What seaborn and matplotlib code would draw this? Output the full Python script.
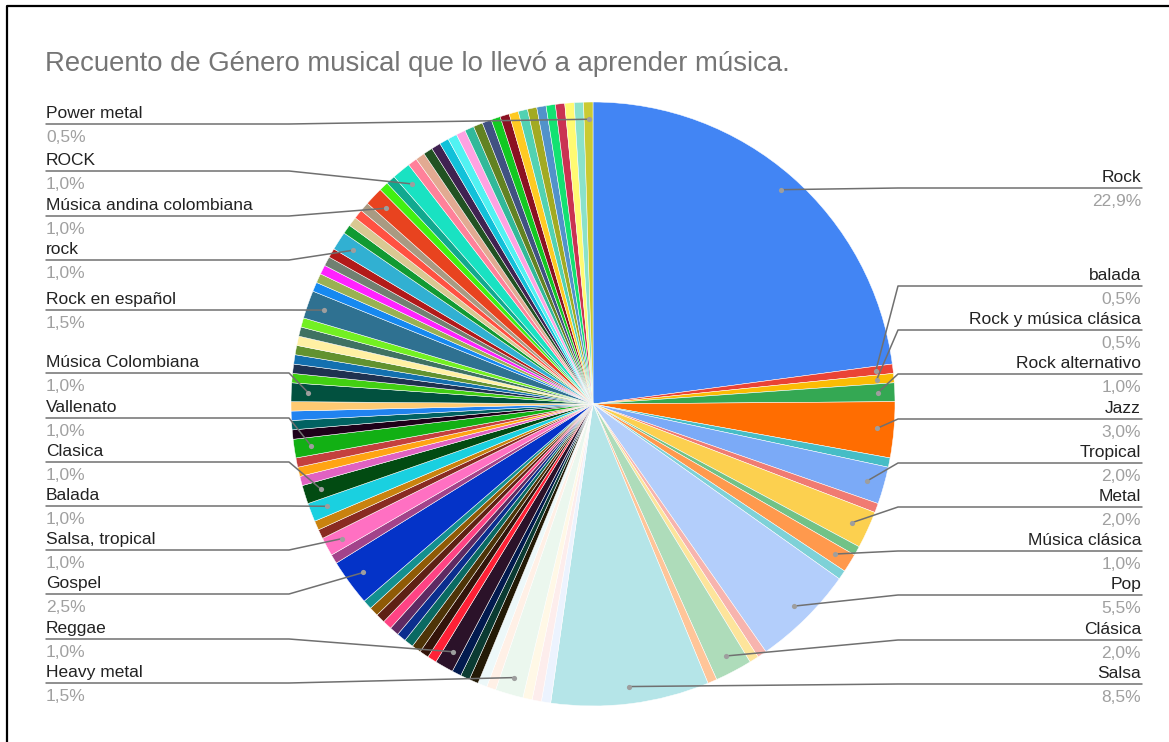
import matplotlib
matplotlib.use("Agg")
import matplotlib.pyplot as plt
import seaborn as sns
import numpy as np

sns.set_theme(style="white")
plt.rcParams['font.family'] = ['Liberation Sans', 'DejaVu Sans']

TITLE = "Recuento de Género musical que lo llevó a aprender música."

# ---- data (clockwise from 12 o'clock); None = slice without a visible label
genres = [
    "Rock", "balada", "Rock y música clásica", "Rock alternativo", "Jazz", None,
    "Tropical", None, "Metal", None, "Música clásica", None,
    "Pop", None, None, "Clásica", None, "Salsa",
    None, None, None, "Heavy metal", None, None,
    None, None, None, "Reggae", None, None, None, None, None, None, None, None, None, None,
    "Gospel", None, "Salsa, tropical", None, None, "Balada", "Clasica", None, None, None,
    "Vallenato", None, None, None, None, "Música Colombiana", None, None, None, None, None, None, None,
    "Rock en español", None, None, None, None, None, "rock", None, None, None, None,
    "Música andina colombiana", None, None, "ROCK",
    None, None, None, None, None, None, None, None, None, None,
    None, None, None, None, None, None, None, None, None, None,
    "Power metal",
]
counts = [
    46, 1, 1, 2, 6, 1,
    4, 1, 4, 1, 2, 1,
    11, 1, 1, 4, 1, 17,
    1, 1, 1, 3, 1, 1,
    1, 1, 1, 2, 1, 1, 1, 1, 1, 1, 1, 1, 1, 1,
    5, 1, 2, 1, 1, 2, 2, 1, 1, 1,
    2, 1, 1, 1, 1, 2, 1, 1, 1, 1, 1, 1, 1,
    3, 1, 1, 1, 1, 1, 2, 1, 1, 1, 1,
    2, 1, 1, 2,
    1, 1, 1, 1, 1, 1, 1, 1, 1, 1,
    1, 1, 1, 1, 1, 1, 1, 1, 1, 1,
    1,
]
colors = [
    "#4285F4", "#EA4335", "#FBBC04", "#34A853", "#FF6D01", "#46BDC6",
    "#7BAAF7", "#F07B72", "#FCD04F", "#71C287", "#FF994D", "#7ED1D7",
    "#B3CEFB", "#F7B4AE", "#FDE49B", "#AEDCBA", "#FFC599", "#B5E5E8",
    "#ECF3FE", "#FDEDEC", "#FFF8E6", "#EBF7EE", "#FFF0E6", "#EDF8F9",
    "#231A06", "#0B3B32", "#021A4E", "#2B1229", "#FF2136", "#33140A", "#4E3408",
    "#0A6A62", "#0B2E8E", "#5E2A62", "#FF4384", "#5E2014", "#8F5A06", "#13908F",
    "#0433C8", "#A2438A", "#FF70C2", "#892B22", "#C9820F", "#1AD0E0", "#024B12",
    "#E062C2", "#FFA414", "#C4403E",
    "#12B014", "#1E0019", "#016262", "#2183F0", "#FFCA72", "#02513F", "#42D012",
    "#1F3150", "#1370B0", "#62922F", "#FFF0A3", "#3F7262", "#73F022",
    "#2F7191", "#1689F0", "#9AB152", "#FF22FF", "#718071", "#B21A1A", "#31B0D2",
    "#119A32", "#D9C892", "#FF5142", "#A99A82",
    "#E8431F", "#42F011", "#11A98F", "#19E2C2",
    "#FF819A", "#E2AA92", "#215222", "#402251", "#11C1D9", "#51F2F2", "#FFA2E2",
    "#31B99A", "#628222", "#415282",
    "#12C922", "#8B1122", "#FFCA22", "#52D2B2", "#A2AA22", "#5292CA", "#12E272",
    "#CA3252", "#FFFA72", "#8AE2CA",
    "#CACA32",
]

# ---- layout (pixels)
W, H = 1169, 742
CX, CY, R = 593, 404, 302
left_label_y = {
    "Power metal": 124, "ROCK": 171, "Música andina colombiana": 216, "rock": 260,
    "Rock en español": 310, "Música Colombiana": 373, "Vallenato": 418,
    "Clasica": 462, "Balada": 506, "Salsa, tropical": 550, "Gospel": 594,
    "Reggae": 639, "Heavy metal": 683,
}
right_label_y = {
    "Rock": 188, "balada": 286, "Rock y música clásica": 330, "Rock alternativo": 374,
    "Jazz": 419, "Tropical": 463, "Metal": 507, "Música clásica": 551,
    "Pop": 595, "Clásica": 640, "Salsa": 684,
}
LEFT_X, RIGHT_X = 46, 1142
LEFT_ELBOW, RIGHT_ELBOW = CX - R - 2, CX + R + 3
DOT_R = 0.943
LABEL_FS = 12.5
TITLE_FS = 19.8

fig = plt.figure(figsize=(W / 100, H / 100), dpi=100)
fig.patch.set_facecolor("white")

ax = fig.add_axes([(CX - R) / W, (H - CY - R) / H, 2 * R / W, 2 * R / H])
palette = sns.color_palette(colors)
ax.pie(counts, colors=palette, startangle=90, counterclock=False, radius=1,
       wedgeprops=dict(edgecolor="white", linewidth=0.35, antialiased=True))
ax.set_xlim(-1, 1)
ax.set_ylim(-1, 1)
ax.set_axis_off()

ov = fig.add_axes([0, 0, 1, 1], zorder=5)
ov.set_xlim(0, W)
ov.set_ylim(H, 0)
ov.set_axis_off()
ov.patch.set_visible(False)

# frame
ov.plot([7, 7, W], [H, 6, 6], color="black", lw=1.6, solid_capstyle="butt")

ov.text(LEFT_X - 1, 71, TITLE, fontsize=TITLE_FS, color="#757575", ha="left", va="baseline")

total = sum(counts)
cum = np.cumsum(counts)
line_col = "#707070"
for g, c, cm in zip(genres, counts, cum):
    if g is None:
        continue
    theta = np.deg2rad((cm - c / 2) / total * 360)
    dx = CX + DOT_R * R * np.sin(theta)
    dy = CY - DOT_R * R * np.cos(theta)
    pct = f"{c / total * 100:.1f}".replace(".", ",") + "%"
    if g in right_label_y:
        ly = right_label_y[g]
        ov.plot([dx, RIGHT_ELBOW, RIGHT_X], [dy, ly, ly], color=line_col, lw=1.1)
        ov.text(RIGHT_X - 1, ly - 6, g, fontsize=LABEL_FS, color="#222222", ha="right", va="baseline")
        ov.text(RIGHT_X - 1, ly + 18, pct, fontsize=LABEL_FS, color="#A0A0A0", ha="right", va="baseline")
    else:
        ly = left_label_y[g]
        ov.plot([dx, LEFT_ELBOW, LEFT_X], [dy, ly, ly], color=line_col, lw=1.1)
        ov.text(LEFT_X, ly - 6, g, fontsize=LABEL_FS, color="#222222", ha="left", va="baseline")
        ov.text(LEFT_X, ly + 18, pct, fontsize=LABEL_FS, color="#A0A0A0", ha="left", va="baseline")
    ov.scatter([dx], [dy], s=14, color="#9E9E9E", zorder=6, linewidths=0)

fig.savefig("out.png", dpi=100)
